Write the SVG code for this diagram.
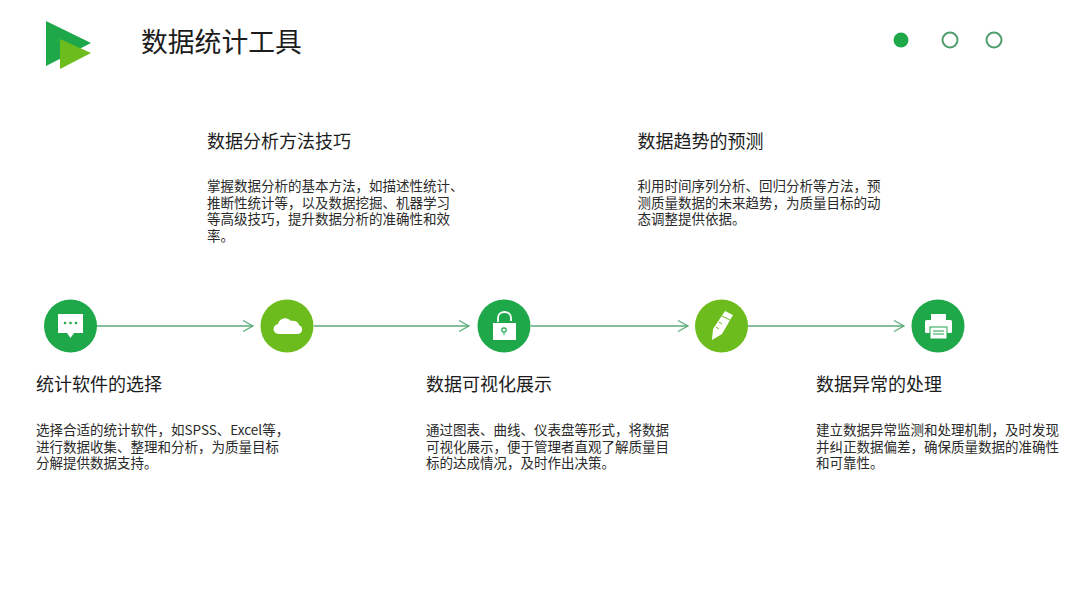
<svg xmlns="http://www.w3.org/2000/svg" width="1080" height="607" viewBox="0 0 1080 607">
<style>
text{font-family:"Noto Sans CJK SC","Liberation Sans",sans-serif;fill:#1c1c1c}
.t{font-size:18px}
.b{font-size:13.5px;fill:#2a2a2a}
.g1{fill:#1ea84a}
.g2{fill:#6cbc1e}
.w{fill:#fff}
.c{fill:none;stroke:#5cab78;stroke-width:1.5}
.r{fill:#fff;stroke:#4f9f6c;stroke-width:2}
</style>
<defs><marker id="a" markerUnits="userSpaceOnUse" markerWidth="14" markerHeight="14" refX="11" refY="7" orient="auto"><path d="M1 1.5L11 7L1 12.5" fill="none" stroke="#5cab78" stroke-width="1.3"/></marker></defs>
<rect width="1080" height="607" fill="#fff"/>
<g id="logo"><polygon points="46,21 91,43 46,66" fill="#1ea84a"/><polygon points="60,39 91,53 60,69" fill="#6cbc1e"/></g>
<text x="141" y="52" font-size="26.800">数据统计工具</text>
<g id="pager"><circle cx="901" cy="40" r="7.500" class="g1"/><circle cx="950" cy="40" r="7.500" class="r"/><circle cx="994" cy="40" r="7.500" class="r"/></g>
<g id="connectors">
<line class="c" x1="97" y1="326" x2="253" y2="326" marker-end="url(#a)"/>
<line class="c" x1="314" y1="326" x2="469" y2="326" marker-end="url(#a)"/>
<line class="c" x1="531" y1="326" x2="688" y2="326" marker-end="url(#a)"/>
<line class="c" x1="748" y1="326" x2="904" y2="326" marker-end="url(#a)"/>
</g>
<g id="node1"><circle cx="70.500" cy="326" r="26.500" class="g1"/><path class="w" d="M58 314H83V333H74L70.500 338L67 333H58Z"/><circle cx="65" cy="323" r="1.300" fill="#1ea84a"/><circle cx="70.500" cy="323" r="1.300" fill="#1ea84a"/><circle cx="76" cy="323" r="1.300" fill="#1ea84a"/>
<text class="t" x="36" y="391">统计软件的选择</text>
<text class="b"><tspan x="36" y="435">选择合适的统计软件，如SPSS、Excel等，</tspan><tspan x="36" y="451.700">进行数据收集、整理和分析，为质量目标</tspan><tspan x="36" y="468.400">分解提供数据支持。</tspan></text></g>
<g id="node2"><circle cx="287" cy="326" r="26.500" class="g2"/><path class="w" d="M279 334C272 334 272 325 278 324C279 318 287 316 291 321C297 320 299 324 299 325C304 327 303 334 297 334Z"/>
<text class="t" x="207" y="147.500">数据分析方法技巧</text>
<text class="b"><tspan x="207" y="191">掌握数据分析的基本方法，如描述性统计、</tspan><tspan x="207" y="207.700">推断性统计等，以及数据挖掘、机器学习</tspan><tspan x="207" y="224.400">等高级技巧，提升数据分析的准确性和效</tspan><tspan x="207" y="241.100">率。</tspan></text></g>
<g id="node3"><circle cx="504" cy="326" r="26.500" class="g1"/><rect class="w" x="493" y="323" width="23" height="17"/><path d="M498 322V318C498 310 511 310 511 318V321" fill="none" stroke="#fff" stroke-width="1.800"/><circle cx="504" cy="330" r="2.200" fill="none" stroke="#1ea84a" stroke-width="1.200"/><line x1="504" y1="332" x2="504" y2="335" stroke="#1ea84a"/>
<text class="t" x="426" y="391">数据可视化展示</text>
<text class="b"><tspan x="426" y="435">通过图表、曲线、仪表盘等形式，将数据</tspan><tspan x="426" y="451.700">可视化展示，便于管理者直观了解质量目</tspan><tspan x="426" y="468.400">标的达成情况，及时作出决策。</tspan></text></g>
<g id="node4"><circle cx="721.500" cy="326" r="26.500" class="g2"/><path class="w" d="M725 311L733 315L722 334L712 340L713 329Z"/><path d="M722 316L730 320M719 322L722 324M716 327L719 329" stroke="#6cbc1e" fill="none"/>
<text class="t" x="637.500" y="147.500">数据趋势的预测</text>
<text class="b"><tspan x="637.500" y="191">利用时间序列分析、回归分析等方法，预</tspan><tspan x="637.500" y="207.700">测质量数据的未来趋势，为质量目标的动</tspan><tspan x="637.500" y="224.400">态调整提供依据。</tspan></text></g>
<g id="node5"><circle cx="938" cy="326" r="26.500" class="g1"/><rect class="w" x="931" y="314" width="15" height="6"/><rect class="w" x="925" y="320" width="27" height="13" rx="1.500"/><rect class="w" x="930" y="327" width="17" height="12" stroke="#1ea84a"/><path d="M933 331H944M933 334H944" stroke="#1ea84a"/>
<text class="t" x="816" y="391">数据异常的处理</text>
<text class="b"><tspan x="816" y="435">建立数据异常监测和处理机制，及时发现</tspan><tspan x="816" y="451.700">并纠正数据偏差，确保质量数据的准确性</tspan><tspan x="816" y="468.400">和可靠性。</tspan></text></g>
</svg>
